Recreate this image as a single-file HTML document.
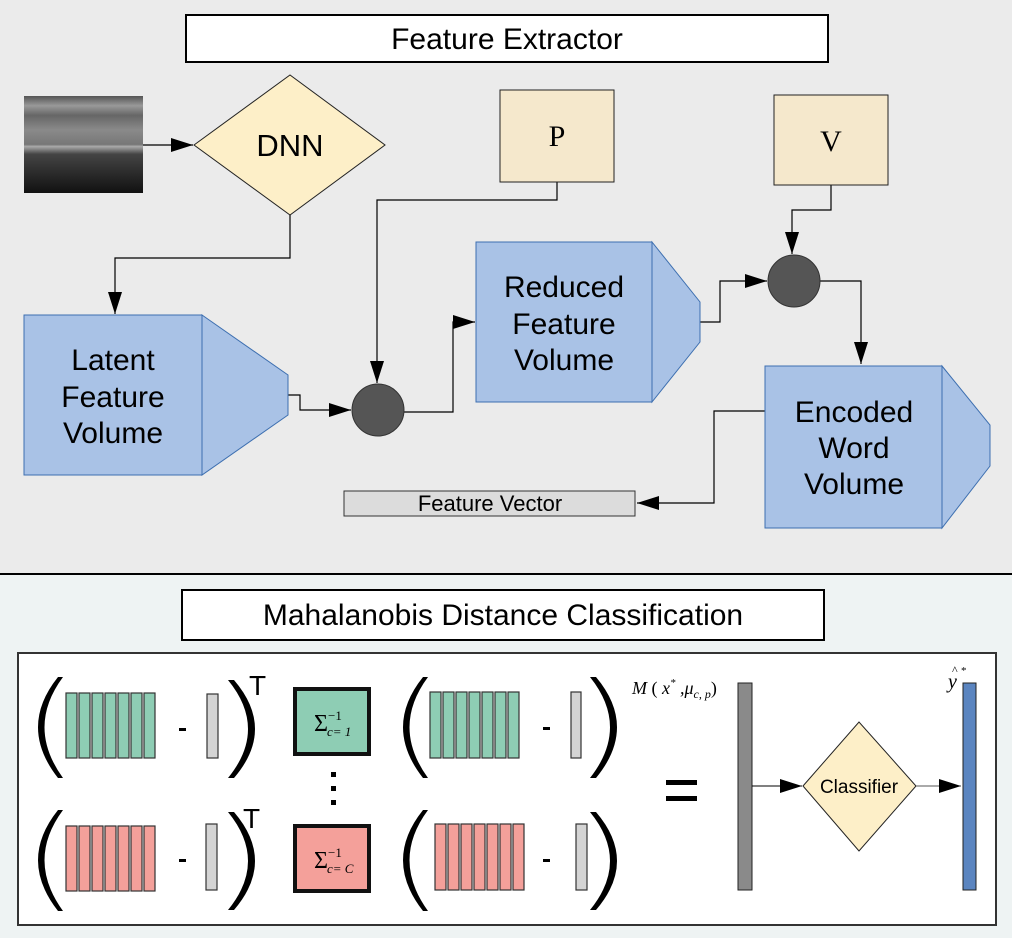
<!DOCTYPE html>
<html><head><meta charset="utf-8"><style>
html,body{margin:0;padding:0;width:1012px;height:938px;overflow:hidden;background:#ebebeb}
svg{display:block}
text{font-family:"Liberation Sans",sans-serif}
</style></head><body>
<svg width="1012" height="938" viewBox="0 0 1012 938" xmlns="http://www.w3.org/2000/svg">
<defs>
<marker id="a" viewBox="0 0 22 14" refX="22" refY="7" markerWidth="22" markerHeight="14" markerUnits="userSpaceOnUse" orient="auto">
<path d="M0,0 L22,7 L0,14 z" fill="#000"/>
</marker>
<linearGradient id="us" x1="0" y1="0" x2="0" y2="1">
<stop offset="0" stop-color="#555"/><stop offset="0.1" stop-color="#999"/><stop offset="0.2" stop-color="#666"/><stop offset="0.35" stop-color="#8a8a8a"/><stop offset="0.5" stop-color="#777"/><stop offset="0.52" stop-color="#aaa"/><stop offset="0.6" stop-color="#444"/><stop offset="1" stop-color="#111"/>
</linearGradient>
</defs>
<rect x="0" y="0" width="1012" height="574" fill="#ebebeb"/>
<rect x="0" y="574" width="1012" height="364" fill="#eef3f3"/>
<line x1="0" y1="574" x2="1012" y2="574" stroke="#000" stroke-width="2"/>

<rect x="186" y="15" width="642" height="47" fill="#fff" stroke="#000" stroke-width="2"/>
<text x="507" y="49" font-size="30" text-anchor="middle">Feature Extractor</text>

<rect x="24" y="96" width="119" height="97" fill="url(#us)"/>
<polygon points="194,145 290,75 385,145 290,215" fill="#fdefc8" stroke="#222" stroke-width="1"/>
<text x="290" y="156" font-size="31" text-anchor="middle">DNN</text>

<g stroke="#000" stroke-width="1.2" fill="none">
<path d="M143,145 H193" marker-end="url(#a)"/>
<path d="M290,215 V258 H115 V314" marker-end="url(#a)"/>
<path d="M288,395 H300 V410 H351" marker-end="url(#a)"/>
<path d="M557,182 V200 H377 V383" marker-end="url(#a)"/>
<path d="M404,412 H453 V322 H475" marker-end="url(#a)"/>
<path d="M700,322 H720 V281 H767" marker-end="url(#a)"/>
<path d="M831,185 V210 H792 V254" marker-end="url(#a)"/>
<path d="M820,281 H861 V364" marker-end="url(#a)"/>
<path d="M765,411 H714 V503 H637" marker-end="url(#a)"/>
</g>

<polygon points="202,315 288,375 288,415 202,475" fill="#a9c2e6" stroke="#3d6fb0"/>
<rect x="24" y="315" width="178" height="160" fill="#a9c2e6" stroke="#3d6fb0"/>
<text font-size="30" text-anchor="middle"><tspan x="113" y="370">Latent</tspan><tspan x="113" y="407">Feature</tspan><tspan x="113" y="443">Volume</tspan></text>

<circle cx="378" cy="410" r="26" fill="#555" stroke="#333"/>

<rect x="500" y="90" width="114" height="92" fill="#f5e8cc" stroke="#222"/>
<text x="557" y="146" font-size="30" text-anchor="middle" style="font-family:'Liberation Serif',serif">P</text>

<polygon points="652,242 700,302 700,342 652,402" fill="#a9c2e6" stroke="#3d6fb0"/>
<rect x="476" y="242" width="176" height="160" fill="#a9c2e6" stroke="#3d6fb0"/>
<text font-size="30" text-anchor="middle"><tspan x="564" y="297">Reduced</tspan><tspan x="564" y="334">Feature</tspan><tspan x="564" y="370">Volume</tspan></text>

<rect x="774" y="95" width="114" height="90" fill="#f5e8cc" stroke="#222"/>
<text x="831" y="151" font-size="30" text-anchor="middle" style="font-family:'Liberation Serif',serif">V</text>

<circle cx="794" cy="281" r="26" fill="#555" stroke="#333"/>

<polygon points="942,366 990,425 990,466 942,528" fill="#a9c2e6" stroke="#3d6fb0"/>
<rect x="765" y="366" width="177" height="162" fill="#a9c2e6" stroke="#3d6fb0"/>
<text font-size="30" text-anchor="middle"><tspan x="854" y="422">Encoded</tspan><tspan x="854" y="458">Word</tspan><tspan x="854" y="494">Volume</tspan></text>

<rect x="344" y="491" width="291" height="25" fill="#dcdcdc" stroke="#333"/>
<text x="490" y="511" font-size="22" text-anchor="middle">Feature Vector</text>

<rect x="182" y="590" width="642" height="50" fill="#fff" stroke="#000" stroke-width="2"/>
<text x="503" y="625" font-size="30" text-anchor="middle">Mahalanobis Distance Classification</text>
<rect x="18" y="653" width="978" height="272" fill="#fff" stroke="#333" stroke-width="2"/>

<g fill="#000">
<path d="M63,677 Q26,727 63,778 L58,778 Q18,727 58,677 Z"/>
<path d="M228,680 Q268,729 228,778 L234,778 Q276,729 234,680 Z"/>
<path d="M428,677 Q391,727 428,778 L423,778 Q383,727 423,677 Z"/>
<path d="M590,677 Q630,727 590,778 L596,778 Q638,727 596,677 Z"/>
<path d="M63,810 Q26,860 63,911 L58,911 Q18,860 58,810 Z"/>
<path d="M228,812 Q268,861 228,910 L234,910 Q276,861 234,812 Z"/>
<path d="M428,810 Q391,860 428,911 L423,911 Q383,860 423,810 Z"/>
<path d="M590,812 Q630,861 590,910 L596,910 Q638,861 596,812 Z"/>
</g>
<text x="249" y="695" font-size="28">T</text>
<text x="243" y="828" font-size="28">T</text>

<g stroke="#333" stroke-width="1.2">
<g fill="#8ecdb4">
<rect x="66" y="693" width="11" height="65"/><rect x="79" y="693" width="11" height="65"/><rect x="92" y="693" width="11" height="65"/><rect x="105" y="693" width="11" height="65"/><rect x="118" y="693" width="11" height="65"/><rect x="131" y="693" width="11" height="65"/><rect x="144" y="693" width="11" height="65"/>
<rect x="430" y="692" width="11" height="66"/><rect x="443" y="692" width="11" height="66"/><rect x="456" y="692" width="11" height="66"/><rect x="469" y="692" width="11" height="66"/><rect x="482" y="692" width="11" height="66"/><rect x="495" y="692" width="11" height="66"/><rect x="508" y="692" width="11" height="66"/>
</g>
<g fill="#f4a09a">
<rect x="66" y="826" width="11" height="65"/><rect x="79" y="826" width="11" height="65"/><rect x="92" y="826" width="11" height="65"/><rect x="105" y="826" width="11" height="65"/><rect x="118" y="826" width="11" height="65"/><rect x="131" y="826" width="11" height="65"/><rect x="144" y="826" width="11" height="65"/>
<rect x="435" y="824" width="11" height="66"/><rect x="448" y="824" width="11" height="66"/><rect x="461" y="824" width="11" height="66"/><rect x="474" y="824" width="11" height="66"/><rect x="487" y="824" width="11" height="66"/><rect x="500" y="824" width="11" height="66"/><rect x="513" y="824" width="11" height="66"/>
</g>
<g fill="#d4d4d4">
<rect x="207" y="694" width="11" height="64"/><rect x="571" y="692" width="10" height="66"/>
<rect x="206" y="824" width="11" height="66"/><rect x="576" y="824" width="11" height="66"/>
</g>
</g>
<g fill="#000"><rect x="179" y="728" width="7" height="3"/><rect x="543" y="727" width="7" height="3"/><rect x="179" y="859" width="7" height="3"/><rect x="543" y="859" width="7" height="3"/></g>

<rect x="295" y="689" width="74" height="65" fill="#8ecdb4" stroke="#111" stroke-width="4"/>
<text x="314" y="731" font-size="24" style="font-family:'Liberation Serif',serif">Σ</text>
<text x="328" y="720" font-size="13" style="font-family:'Liberation Serif',serif">−1</text>
<text x="327" y="736" font-size="13" font-style="italic" style="font-family:'Liberation Serif',serif">c= 1</text>
<rect x="295" y="826" width="74" height="65" fill="#f4a09a" stroke="#111" stroke-width="4"/>
<text x="314" y="868" font-size="24" style="font-family:'Liberation Serif',serif">Σ</text>
<text x="328" y="857" font-size="13" style="font-family:'Liberation Serif',serif">−1</text>
<text x="327" y="873" font-size="13" font-style="italic" style="font-family:'Liberation Serif',serif">c= C</text>
<g fill="#000"><rect x="331" y="772" width="5" height="5"/><rect x="331" y="786" width="5" height="5"/><rect x="331" y="800" width="5" height="5"/></g>

<rect x="666" y="780" width="31" height="5" fill="#000"/><rect x="666" y="796" width="31" height="5" fill="#000"/>

<text x="632" y="694" font-size="18" font-style="italic" style="font-family:'Liberation Serif',serif">M<tspan font-style="normal"> (</tspan> x<tspan font-size="11" dy="-8">*</tspan><tspan dy="8"> ,μ</tspan><tspan font-size="12" dy="4">c, p</tspan><tspan font-style="normal" dy="-4">)</tspan></text>
<rect x="738" y="683" width="14" height="207" fill="#8a8a8a" stroke="#222"/>
<path d="M752,786 H802" stroke="#000" stroke-width="1" fill="none" marker-end="url(#a)"/>
<polygon points="803,786 859,722 916,786 859,851" fill="#fdefc8" stroke="#222"/>
<text x="859" y="793" font-size="19" text-anchor="middle">Classifier</text>
<path d="M916,786 H961" stroke="#555" stroke-width="1" fill="none" marker-end="url(#a)"/>
<rect x="963" y="683" width="13" height="207" fill="#5b85c0" stroke="#222"/>
<text x="948" y="688" font-size="20" font-style="italic" style="font-family:'Liberation Serif',serif">y</text>
<text x="952" y="674" font-size="12" style="font-family:'Liberation Serif',serif">^</text>
<text x="961" y="674" font-size="11" style="font-family:'Liberation Serif',serif">*</text>
</svg>
</body></html>
